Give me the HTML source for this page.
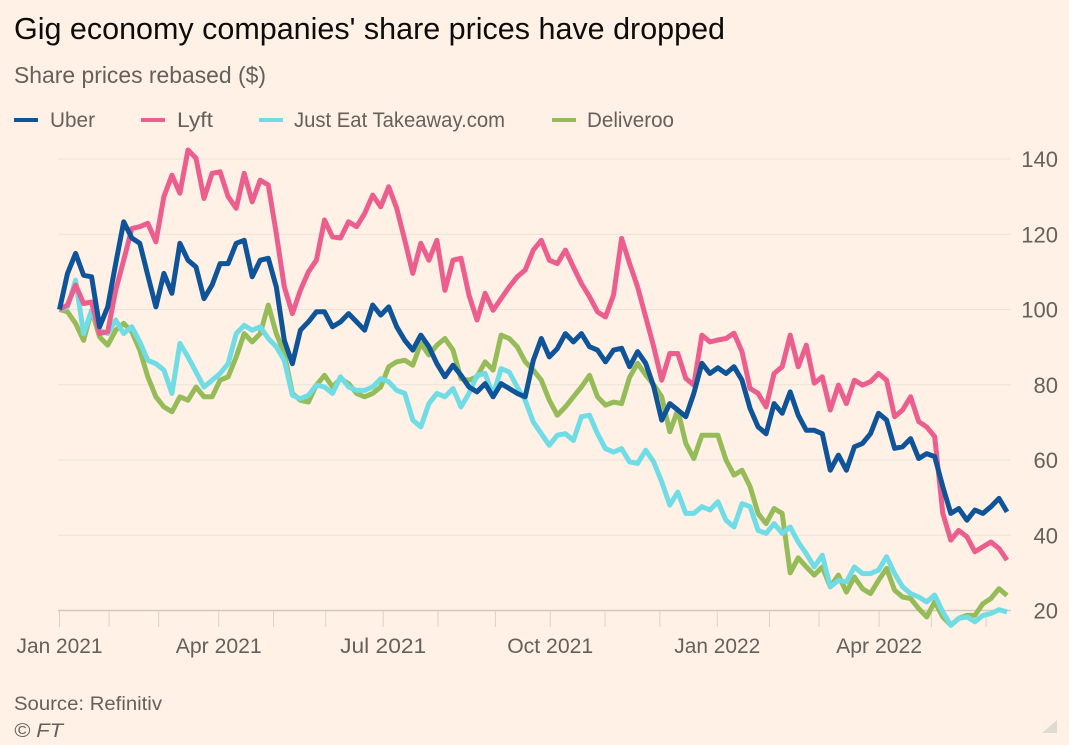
<!DOCTYPE html>
<html lang="en">
<head>
<meta charset="utf-8">
<title>Gig economy companies' share prices have dropped</title>
<style>
  html, body { margin: 0; padding: 0; background: #fff1e5; }
  svg { display: block; font-family: "Liberation Sans", sans-serif; }
</style>
</head>
<body>
<svg id="chart" xmlns="http://www.w3.org/2000/svg" width="1069" height="745" viewBox="0 0 1069 745">
  <rect x="0" y="0" width="1069" height="745" fill="#fff1e5"/>
  <text x="14" y="39" font-size="30.5" fill="#0d0c0b" textLength="711" lengthAdjust="spacingAndGlyphs">Gig economy companies' share prices have dropped</text>
  <text x="14" y="83" font-size="23" fill="#66605c" textLength="252" lengthAdjust="spacingAndGlyphs">Share prices rebased ($)</text>

  <g>
    <line x1="14" x2="38" y1="120" y2="120" stroke="#0f5499" stroke-width="4"/>
    <text x="50" y="127" font-size="21" fill="#66605c" textLength="45" lengthAdjust="spacingAndGlyphs">Uber</text>
    <line x1="141" x2="165" y1="120" y2="120" stroke="#eb5e8d" stroke-width="4"/>
    <text x="177" y="127" font-size="21" fill="#66605c" textLength="36" lengthAdjust="spacingAndGlyphs">Lyft</text>
    <line x1="259" x2="283" y1="120" y2="120" stroke="#70dce6" stroke-width="4"/>
    <text x="294" y="127" font-size="21" fill="#66605c" textLength="211" lengthAdjust="spacingAndGlyphs">Just Eat Takeaway.com</text>
    <line x1="552" x2="576" y1="120" y2="120" stroke="#96bc59" stroke-width="4"/>
    <text x="587" y="127" font-size="21" fill="#66605c" textLength="87" lengthAdjust="spacingAndGlyphs">Deliveroo</text>
  </g>

  <g id="grid"></g>
  <g id="xaxis"></g>
  <g id="yaxis"></g>
  <g id="series"></g>

  <text x="14" y="710" font-size="19.5" fill="#66605c" textLength="148" lengthAdjust="spacingAndGlyphs">Source: Refinitiv</text>
  <text x="14" y="737" font-size="19.5" font-style="italic" fill="#66605c" textLength="49" lengthAdjust="spacingAndGlyphs">© FT</text>
  <polygon points="1057,720 1057,733 1042,733" fill="#dedbd7"/>
</svg>

<script>
// Chart data
const yTicks = [20, 40, 60, 80, 100, 120, 140];
const monthTickSessions = [0, 19, 38, 61, 82, 102, 124, 145, 167, 188, 209, 230, 252, 272, 291, 314, 334, 355];
const labelledSessions = [0, 61, 124, 188, 252, 314];
const labelledMonths = ["Jan 2021", "Apr 2021", "Jul 2021", "Oct 2021", "Jan 2022", "Apr 2022"];

const uberValues = [100,109.6,114.9,109.1,108.7,95.4,100.7,112.2,123.3,119,
117.6,109.1,100.7,109.6,104.3,117.6,113.1,111.3,102.9,106.5,
112.2,112.2,117.6,118.4,108.7,113.1,113.6,106,91.8,85.6,
94.5,96.7,99.4,99.4,95.4,96.7,98.9,96.7,94.5,101.2,
98.5,100.7,95.4,91.8,89.2,93.2,90.1,85.6,82.1,85.2,
82.5,79.4,78.1,80.3,76.8,80.3,79,77.7,76.8,86.5,
92.3,87.4,89.6,93.6,91.4,93.6,90.1,89.2,86.1,89.2,
89.7,84.8,88.8,85.7,79.5,70.6,75,73.3,71.5,77.7,
85.7,83,84.5,83,84.8,81.2,73.7,68.8,67,75,
72.4,78.1,71.9,67.9,67.9,67,57.3,61.3,57.3,63.5,
64.4,67,72.4,70.6,63.1,63.5,65.7,60.4,61.7,60.9,
52.9,45.8,47.1,44,46.7,45.8,47.6,49.8,46.2];

const lyftValues = [100,101.2,106.5,101.6,102,93.6,94.1,105.1,113.1,121.5,
122,122.9,118,130,135.7,130.9,142.4,140.2,129.5,136.2,
136.6,130,126.9,136.2,128.6,134.4,133.1,120.2,106,98.9,
105.1,110,113.1,123.8,119.3,119,123.3,122,125.5,130.4,
127.3,132.6,126.9,118.4,109.6,117.6,113.1,118.4,105.1,113.1,
113.6,103.8,97.2,104.3,99.8,102.9,106,108.7,110.5,115.8,
118.4,113.1,112.2,115.8,111.3,106.9,103.4,99.4,98,103.8,
118.9,112.2,106,98,90.1,81.2,88.3,88.3,81.7,79.9,
93.2,91.4,91.9,92.3,93.7,88.8,79,77.7,74.1,83,
84.8,93.2,84.8,90.5,80.4,82.1,73.3,79.9,75,81.2,
79.9,80.8,83,81.2,71.5,73.3,76.8,70.2,68.8,66.2,
45.8,38.7,41.3,39.6,35.6,36.9,38.2,36.5,33.4];

const justEatValues = [100,100.7,107.8,93.6,99.8,94.5,93.6,97.2,93.6,95.4,
91.4,86.5,85.6,83.9,77.7,91,87.4,83.4,79.4,81.2,
83,85.6,93.6,95.8,94.5,95.4,92.3,90.1,86.5,77.2,
76.3,77.2,79.9,79.4,77.7,82.1,79.4,78.5,78.5,79.4,
81.6,80.8,78.5,77.7,70.6,68.8,75,77.7,76.8,79,
74.1,77.7,82.5,83,77.2,84.3,83.4,79.4,75.9,70.1,
67,63.9,66.6,67,65.2,71.5,71.9,67,63,62.1,
63,59.5,59.1,62.6,59.5,54.2,48,51.5,45.8,45.8,
47.6,46.7,48.9,44,42.2,48.4,47.6,41.3,40.5,43.1,
40.5,42.2,38.2,35.1,31.6,34.7,26.3,28,27.6,31.6,
29.8,29.8,30.7,34.3,29.8,26.3,24.5,23.6,22.3,24.1,
19.6,16.1,17.9,18.3,17,18.7,19.2,20.2,19.6];

const deliverooValues = [100,99.4,96.3,91.8,99.8,92.7,90.5,94.5,96.3,94.1,
89.2,82.1,76.8,74.1,72.8,76.8,75.9,79.4,76.8,76.8,
81.2,82.1,87.4,93.6,91.4,93.6,101.2,93.6,88.3,77.7,
75.9,75.4,79.9,82.5,79.4,81.6,80.3,77.7,76.8,77.7,
79.4,84.8,86.1,86.5,85.2,91,87.9,90.5,92.3,89.2,
81.6,81.2,82.1,86.1,83.9,93.2,92.3,90.1,86.1,83.9,
81.2,75.9,71.9,74.1,76.8,79.4,82.5,76.8,74.6,75.4,
75,82,85.7,82.6,80,76.8,67.5,73.3,64.4,60.4,
66.6,66.6,66.6,60,56,57.3,52.9,45.8,43.1,47.1,
45.8,30,34,31.6,29.4,31.6,26.3,29.4,24.9,28.9,
25.8,24.5,28,31.2,25.4,23.6,23.2,20.5,18.3,22.3,
18.3,16.1,17.9,18.7,18.7,21.8,23.2,25.8,24];

const sessionsPerSample = 363 / 118;

// Axis functions
function xScale(session) {
  return 59.5 + session * (1007 - 59.5) / 363;
}
function yScale(value) {
  return 610.5 - (value - 20) * (610.5 - 159) / 120;
}

const svgNS = 'http://www.w3.org/2000/svg';
function make(tag, parent, attrs, text) {
  const el = document.createElementNS(svgNS, tag);
  Object.keys(attrs).forEach(function (k) { el.setAttribute(k, attrs[k]); });
  if (text !== undefined) el.textContent = text;
  parent.appendChild(el);
  return el;
}

const grid = document.getElementById('grid');
const yaxis = document.getElementById('yaxis');
yTicks.forEach(function (tick) {
  const y = yScale(tick);
  const line = make('line', grid, { x1: 58, x2: 1011, y1: y, y2: y, stroke: tick === 20 ? '#d3c8be' : '#ebe2d9', 'stroke-width': tick === 20 ? 1.5 : 1 });
  
  
  const label = make('text', yaxis, { x: 1058, y: y + 8, 'font-size': 22, fill: '#66605c', 'text-anchor': 'end' }, String(tick));
  
  
});

const xaxis = document.getElementById('xaxis');
monthTickSessions.forEach(function (session) {
  const x = xScale(session);
  const mark = make('line', xaxis, { x1: x, x2: x, y1: 610.5, y2: 627, stroke: '#ddd2c8', 'stroke-width': 1 });
  
  
});
labelledSessions.forEach(function (session, i) {
  const label = make('text', xaxis, { x: xScale(session), y: 653, 'font-size': 21, fill: '#66605c', 'text-anchor': 'middle', textLength: 86, lengthAdjust: 'spacingAndGlyphs' }, labelledMonths[i]);
  
  
});

function linePath(values) {
  return values.map(function (v, i) {
    return (i ? 'L' : 'M') + xScale(i * sessionsPerSample).toFixed(1) + ' ' + yScale(v).toFixed(1);
  }).join(' ');
}

const seriesGroup = document.getElementById('series');

const deliverooLine = make('path', seriesGroup, { d: linePath(deliverooValues), fill: 'none', stroke: '#96bc59', 'stroke-width': 5, 'stroke-linejoin': 'round' });



const justEatLine = make('path', seriesGroup, { d: linePath(justEatValues), fill: 'none', stroke: '#70dce6', 'stroke-width': 5, 'stroke-linejoin': 'round' });



const lyftLine = make('path', seriesGroup, { d: linePath(lyftValues), fill: 'none', stroke: '#eb5e8d', 'stroke-width': 5, 'stroke-linejoin': 'round' });



const uberLine = make('path', seriesGroup, { d: linePath(uberValues), fill: 'none', stroke: '#0f5499', 'stroke-width': 5, 'stroke-linejoin': 'round' });


</script>
</body>
</html>
